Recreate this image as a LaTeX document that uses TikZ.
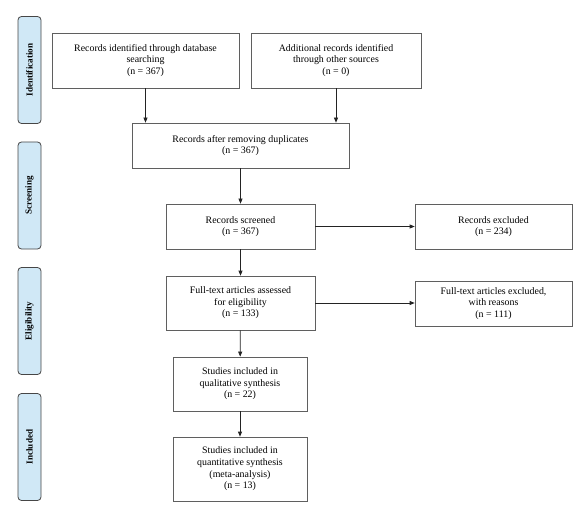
\documentclass[tikz,border=0pt]{standalone}
\usepackage{fontspec}
\setmainfont{Liberation Serif}
\usepackage{tikz}
\usetikzlibrary{arrows.meta, positioning}
\definecolor{stagefill}{RGB}{208,232,246}
\definecolor{stagedraw}{RGB}{70,70,70}
\definecolor{boxdraw}{RGB}{95,95,95}
\definecolor{arrowcol}{RGB}{35,35,35}
\tikzset{>={Triangle[length=5pt,width=4pt]}}
\tikzset{
	rec/.style={draw=boxdraw, line width=0.7pt, align=center, inner sep=2pt,
		font=\fontsize{9.9}{11.6}\selectfont},
	stage/.style={draw=stagedraw, fill=stagefill, rounded corners=3.5pt, line width=0.8pt,
		minimum width=107pt, minimum height=23pt, rotate=90, inner sep=0pt,
		font=\fontsize{9.1}{10}\selectfont\bfseries}
}

\begin{document}
\begin{tikzpicture}[x=1pt, y=-1pt]
		\useasboundingbox (0,0) rectangle (584,508);
		% phases
		\node[stage] (S1) at (29.5,70) {Identification};
		\node[stage] (S2) at (29.5,195.5) {Screening};
		\node[stage] (S3) at (29.5,321) {Eligibility};
		\node[stage] (S4) at (29.5,447) {Included};
		% records
		\node[rec, minimum width=187pt, minimum height=55pt] (A1) at (145.5,60.5) {Records identified through database\\searching\\(n = 367)};
		\node[rec, minimum width=170pt, minimum height=55pt] (A2) at (336,60.5) {Additional records identified\\through other sources\\(n = 0)};
		\node[rec, minimum width=217pt, minimum height=45pt] (B1) at (240.5,145.5) {Records after removing duplicates\\(n = 367)};
		\node[rec, minimum width=149pt, minimum height=45pt] (C1) at (240.5,226.5) {Records screened\\(n = 367)};
		\node[rec, minimum width=157pt, minimum height=45pt] (C2) at (493.5,226.5) {Records excluded\\(n = 234)};
		\node[rec, minimum width=149pt, minimum height=54pt] (D1) at (240.5,303) {Full-text articles assessed\\for eligibility\\(n = 133)};
		\node[rec, minimum width=157pt, minimum height=45pt] (D2) at (493.5,303.5) {Full-text articles excluded,\\with reasons\\(n = 111)};
		\node[rec, minimum width=134pt, minimum height=54pt] (E1) at (240,384) {Studies included in\\qualitative synthesis\\(n = 22)};
		\node[rec, minimum width=134pt, minimum height=64pt] (F1) at (240,469) {Studies included in\\quantitative synthesis\\(meta-analysis)\\(n = 13)};
		% arrows
		\begin{scope}[draw=arrowcol, line width=0.7pt]
		\draw [->](A1.south)--(A1.south |- B1.north);
		\draw [->](A2.south)--(A2.south |- B1.north);
		\draw [->](B1)--(C1);
		\draw [->](C1)--(C2);
		\draw [->](C1)--(D1);
		\draw [->](D1.east)--(D1.east -| D2.west);
		\draw [->](D1)--(E1);
		\draw [->](E1)--(F1);
		\end{scope}
\end{tikzpicture}
\end{document}
